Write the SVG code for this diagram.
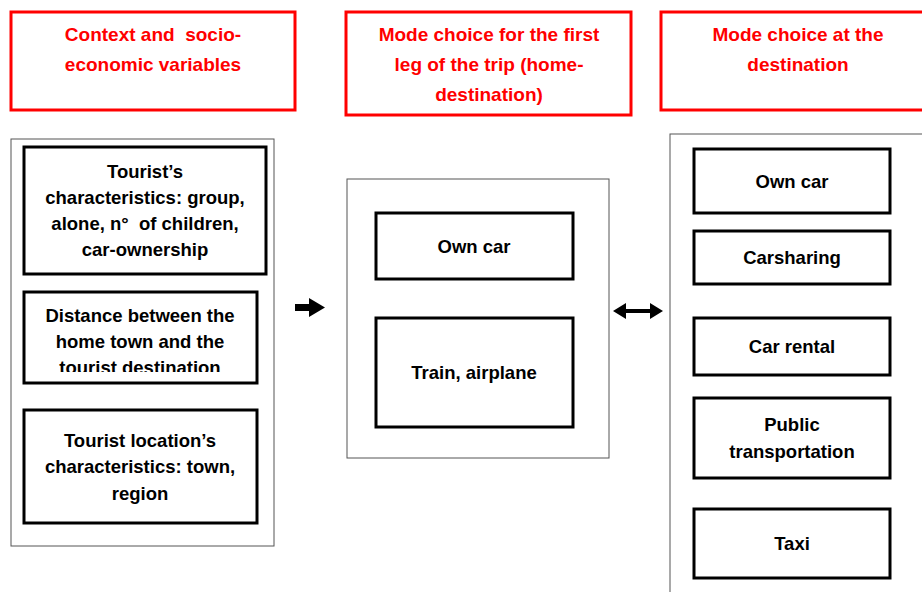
<svg xmlns="http://www.w3.org/2000/svg" width="922" height="592" viewBox="0 0 922 592">
<style>
text{white-space:pre}
.hdr{fill:#fff;stroke:#ff0000;stroke-width:3}
.ht{fill:#ff0000;font-family:"Liberation Sans",Arial,sans-serif;font-weight:bold;font-size:19px;text-anchor:middle}
.outer{fill:#fff;stroke:#555;stroke-width:1}
.box{fill:#fff;stroke:#000;stroke-width:3}
.t{fill:#000;font-family:"Liberation Sans",Arial,sans-serif;font-weight:bold;font-size:18.5px;text-anchor:middle}
</style>
<defs>
<clipPath id="clipD"><rect x="24" y="292" width="233" height="80"/></clipPath>
</defs>
<rect width="922" height="592" fill="#fff"/>
<g id="header1"><rect class="hdr" x="11" y="12" width="284" height="98"/>
<text class="ht" x="153" y="41" xml:space="preserve">Context and  socio-</text>
<text class="ht" x="153" y="71">economic variables</text></g>
<g id="header2"><rect class="hdr" x="346" y="12" width="285" height="103"/>
<text class="ht" x="489" y="41">Mode choice for the first</text>
<text class="ht" x="489" y="71">leg of the trip (home-</text>
<text class="ht" x="489" y="101">destination)</text></g>
<g id="header3"><rect class="hdr" x="661" y="12" width="280" height="98"/>
<text class="ht" x="798" y="41">Mode choice at the</text>
<text class="ht" x="798" y="71">destination</text></g>

<g id="context"><rect class="outer" x="11" y="139" width="263" height="407"/></g>
<g id="tourist"><rect class="box" x="24" y="147" width="242" height="127"/>
<text class="t" x="145" y="178">Tourist’s</text>
<text class="t" x="145" y="204">characteristics: group,</text>
<text class="t" x="145" y="230" xml:space="preserve">alone, n°  of children,</text>
<text class="t" x="145" y="256">car-ownership</text></g>
<g id="distance"><rect class="box" x="24" y="292" width="233" height="91"/>
<g clip-path="url(#clipD)">
<text class="t" x="140" y="322">Distance between the</text>
<text class="t" x="140" y="348">home town and the</text>
<text class="t" x="140" y="374">tourist destination</text></g></g>
<g id="location"><rect class="box" x="24" y="410" width="233" height="113"/>
<text class="t" x="140" y="447">Tourist location’s</text>
<text class="t" x="140" y="473">characteristics: town,</text>
<text class="t" x="140" y="500">region</text></g>

<g id="firstleg"><rect class="outer" x="347" y="179" width="262" height="279"/></g>
<g id="owncar1"><rect class="box" x="376" y="213" width="197" height="66"/>
<text class="t" x="474" y="253">Own car</text></g>
<g id="train"><rect class="box" x="376" y="318" width="197" height="109"/>
<text class="t" x="474" y="379">Train, airplane</text></g>

<g id="destination"><rect class="outer" x="670" y="134" width="270" height="470"/></g>
<g id="owncar2"><rect class="box" x="694" y="149" width="196" height="64"/>
<text class="t" x="792" y="188">Own car</text></g>
<g id="carsharing"><rect class="box" x="694" y="231" width="196" height="53"/>
<text class="t" x="792" y="264">Carsharing</text></g>
<g id="carrental"><rect class="box" x="694" y="318" width="196" height="57"/>
<text class="t" x="792" y="353">Car rental</text></g>
<g id="public"><rect class="box" x="694" y="398" width="196" height="80"/>
<text class="t" x="792" y="431">Public</text>
<text class="t" x="792" y="458">transportation</text></g>
<g id="taxi"><rect class="box" x="694" y="509" width="196" height="69"/>
<text class="t" x="792" y="550">Taxi</text></g>

<g id="connectors">
<polygon fill="#000" points="295,304 309,304 309,298 325,307.5 309,317 309,311 295,311"/>
<polygon fill="#000" points="613,311 626,303 626,309 650,309 650,303 663,311 650,319 650,313 626,313 626,319"/>
</g>
</svg>
